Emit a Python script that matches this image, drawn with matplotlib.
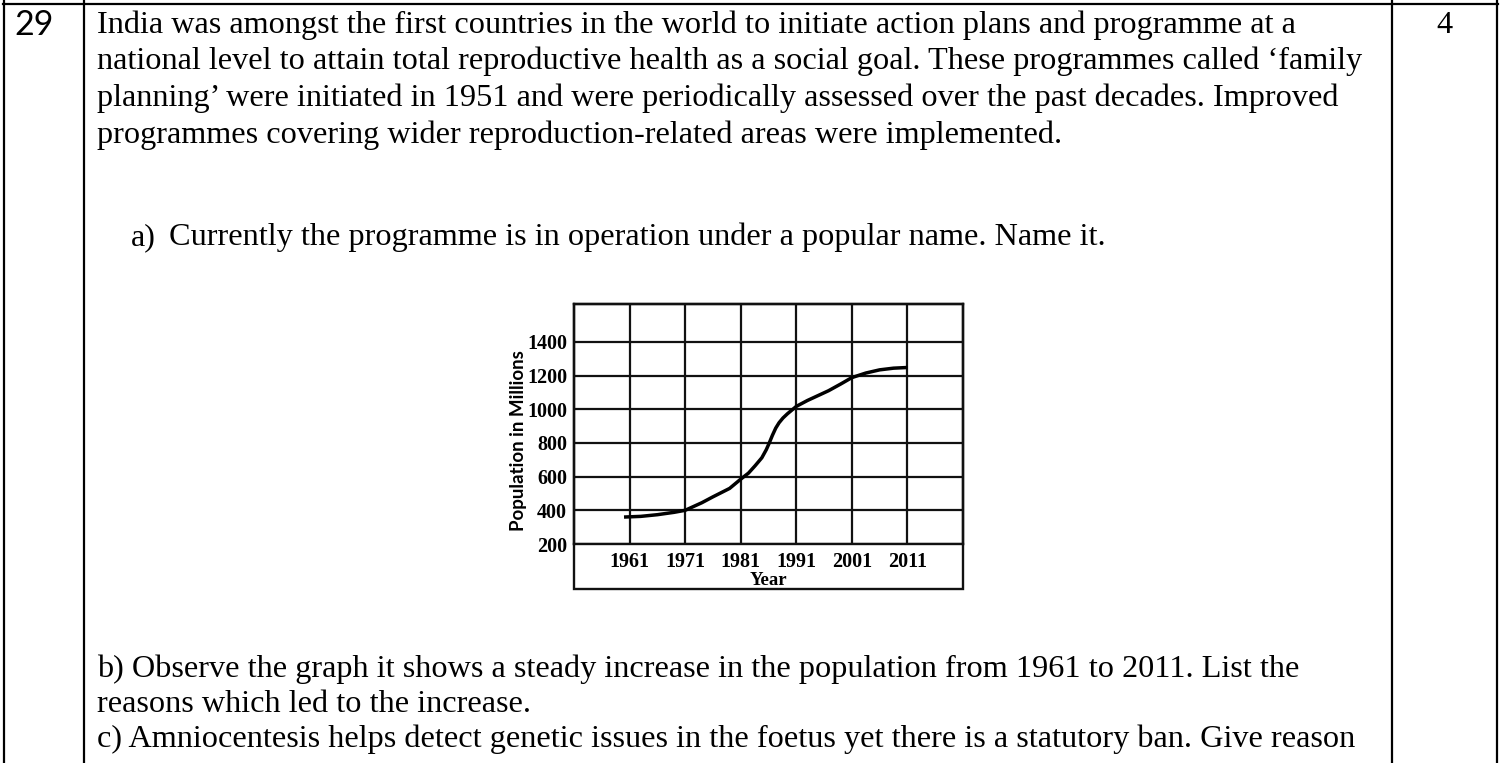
import matplotlib
matplotlib.use("Agg")
import matplotlib.pyplot as plt
from matplotlib.patches import Rectangle

# data
years = [1960, 1963, 1966, 1969, 1971, 1974, 1976, 1979, 1981, 1982.4, 1983.6, 1984.8, 1985.6,
         1986.1, 1986.7, 1987.3, 1987.9, 1988.6, 1989.4, 1991, 1993, 1996.8, 1999, 2001,
         2003.5, 2006, 2008.5, 2011]
population = [360, 364, 374, 388, 400, 445, 480, 530, 585, 621, 665, 712, 760,
              797, 845, 888, 920, 948, 973, 1017, 1052, 1110, 1150, 1188,
              1215, 1234, 1244, 1248]
year_ticks = [1961, 1971, 1981, 1991, 2001, 2011]
pop_ticks = [200, 400, 600, 800, 1000, 1200, 1400]

para = [
    "India was amongst the first countries in the world to initiate action plans and programme at a",
    "national level to attain total reproductive health as a social goal. These programmes called \u2018family",
    "planning\u2019 were initiated in 1951 and were periodically assessed over the past decades. Improved",
    "programmes covering wider reproduction-related areas were implemented.",
]
part_a = "Currently the programme is in operation under a popular name. Name it."
tail = [
    "b) Observe the graph it shows a steady increase in the population from 1961 to 2011. List the",
    "reasons which led to the increase.",
    "c) Amniocentesis helps detect genetic issues in the foetus yet there is a statutory ban. Give reason",
]

W, H = 1501, 763
fig = plt.figure(figsize=(W / 100, H / 100), dpi=100)

# page layer in pixel coords
page = fig.add_axes([0, 0, 1, 1])
page.set_xlim(0, W)
page.set_ylim(H, 0)
page.axis("off")

lw_tab = 1.6
page.plot([3, W - 3], [4, 4], color="black", lw=lw_tab)
for xv in [4, 84, 1392, 1497]:
    page.plot([xv, xv], [0, H], color="black", lw=lw_tab)

serif = "Liberation Serif"
fs = 23.2
page.text(34, 35, "29", family="Lato", fontsize=24.5, ha="center", va="baseline")
page.text(1444, 33, "4", family=serif, fontsize=fs, ha="center", va="baseline")
for i, line in enumerate(para):
    page.text(97, 33 + i * 36.5, line, family=serif, fontsize=fs, va="baseline")
page.text(131, 245, "a)", family=serif, fontsize=fs, va="baseline")
page.text(169, 245, part_a, family=serif, fontsize=fs, va="baseline")
for yb, line in zip([677, 712, 747], tail):
    page.text(97, yb, line, family=serif, fontsize=fs, va="baseline")

# the chart
left, right, top, bot = 574, 963, 304, 544
ax = fig.add_axes([left / W, (H - bot) / H, (right - left) / W, (bot - top) / H])
ax.set_xlim(1951, 2021)
ax.set_ylim(200, 1625)
ax.plot(years, population, color="black", lw=2.5, solid_capstyle="butt",
        solid_joinstyle="round", zorder=3)

ax.set_xticks(year_ticks)
ax.set_yticks(pop_ticks)
ax.grid(True, color="#111111", lw=1.6)
ax.set_axisbelow(True)
for s in ax.spines.values():
    s.set_linewidth(1.7)
    s.set_color("#111111")
ax.tick_params(length=0)
ax.tick_params(axis="y", pad=5)
ax.tick_params(axis="x", pad=6)
for lab in ax.get_xticklabels() + ax.get_yticklabels():
    lab.set_family(serif)
    lab.set_fontweight("bold")
    lab.set_fontsize(14.5)
ax.set_xlabel("Year", family=serif, fontweight="bold", fontsize=13.5, labelpad=0)
ax.set_ylabel("Population in Millions", family="Lato", fontweight="bold", fontsize=13.5)
ax.yaxis.set_label_coords(-0.122, 0.43)
ext = 45 / (bot - top)
ax.add_patch(Rectangle((0, -ext), 1, 1 + ext, transform=ax.transAxes, fill=False,
                       edgecolor="#111111", lw=1.7, clip_on=False))

fig.savefig("out.png", dpi=100)
